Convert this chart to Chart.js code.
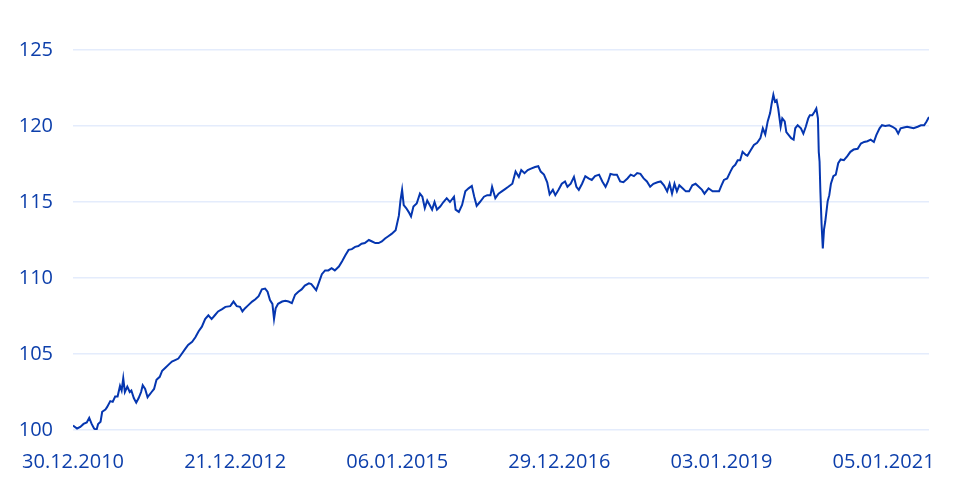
<!DOCTYPE html>
<html>
<head>
<meta charset="utf-8">
<script src="https://cdn.jsdelivr.net/npm/chart.js@4"></script>
<style>
  html, body { margin: 0; padding: 0; background: #fff; }
  #wrap { width: 960px; height: 485px; }
</style>
</head>
<body>
<div id="wrap"><canvas id="chart"></canvas></div>
<script>
// Zeitpunkte (Jahr als Dezimalzahl) und Indexwerte
const years = [
  2011.00, 2011.05, 2011.09, 2011.13, 2011.17, 2011.20, 2011.23, 2011.26, 2011.29, 2011.31,
  2011.34, 2011.36, 2011.40, 2011.42, 2011.46, 2011.49, 2011.52, 2011.55, 2011.58, 2011.60,
  2011.62, 2011.64, 2011.67, 2011.70, 2011.72, 2011.75, 2011.78, 2011.81, 2011.84, 2011.86,
  2011.89, 2011.92, 2011.94, 2011.97, 2012.00, 2012.03, 2012.07, 2012.10, 2012.14, 2012.18,
  2012.22, 2012.26, 2012.30, 2012.34, 2012.38, 2012.42, 2012.47, 2012.51, 2012.55, 2012.59,
  2012.63, 2012.67, 2012.71, 2012.75, 2012.79, 2012.84, 2012.88, 2012.94, 2012.98, 2013.02,
  2013.06, 2013.09, 2013.12, 2013.16, 2013.21, 2013.25, 2013.29, 2013.33, 2013.37, 2013.40,
  2013.43, 2013.46, 2013.48, 2013.50, 2013.53, 2013.58, 2013.62, 2013.66, 2013.70, 2013.74,
  2013.78, 2013.82, 2013.86, 2013.91, 2013.94, 2013.97, 2014.00, 2014.03, 2014.07, 2014.11,
  2014.15, 2014.19, 2014.23, 2014.28, 2014.32, 2014.36, 2014.40, 2014.44, 2014.48, 2014.52,
  2014.56, 2014.60, 2014.65, 2014.69, 2014.73, 2014.77, 2014.81, 2014.85, 2014.89, 2014.93,
  2014.98, 2015.02, 2015.04, 2015.06, 2015.08, 2015.11, 2015.14, 2015.17, 2015.20, 2015.24,
  2015.28, 2015.31, 2015.34, 2015.37, 2015.40, 2015.43, 2015.46, 2015.49, 2015.53, 2015.57,
  2015.61, 2015.65, 2015.70, 2015.72, 2015.76, 2015.80, 2015.84, 2015.88, 2015.92, 2015.95,
  2015.98, 2016.02, 2016.07, 2016.11, 2016.15, 2016.17, 2016.21, 2016.25, 2016.29, 2016.33,
  2016.37, 2016.42, 2016.46, 2016.50, 2016.53, 2016.57, 2016.61, 2016.65, 2016.70, 2016.74,
  2016.77, 2016.81, 2016.85, 2016.88, 2016.92, 2016.95, 2016.99, 2017.03, 2017.07, 2017.10,
  2017.14, 2017.18, 2017.21, 2017.24, 2017.28, 2017.32, 2017.36, 2017.40, 2017.44, 2017.49,
  2017.53, 2017.57, 2017.60, 2017.63, 2017.67, 2017.71, 2017.75, 2017.79, 2017.84, 2017.88,
  2017.92, 2017.96, 2018.00, 2018.04, 2018.08, 2018.12, 2018.16, 2018.21, 2018.25, 2018.29,
  2018.33, 2018.36, 2018.39, 2018.42, 2018.45, 2018.48, 2018.52, 2018.56, 2018.60, 2018.64,
  2018.68, 2018.72, 2018.76, 2018.79, 2018.84, 2018.89, 2018.93, 2018.97, 2019.00, 2019.03,
  2019.07, 2019.11, 2019.14, 2019.17, 2019.20, 2019.23, 2019.26, 2019.30, 2019.32, 2019.36,
  2019.40, 2019.44, 2019.48, 2019.51, 2019.54, 2019.57, 2019.60, 2019.62, 2019.64, 2019.66,
  2019.68, 2019.70, 2019.73, 2019.75, 2019.78, 2019.80, 2019.83, 2019.86, 2019.89, 2019.91,
  2019.94, 2019.98, 2020.01, 2020.04, 2020.07, 2020.09, 2020.12, 2020.15, 2020.17, 2020.19,
  2020.20, 2020.21, 2020.22, 2020.235, 2020.25, 2020.265, 2020.28, 2020.31, 2020.33, 2020.35,
  2020.38, 2020.41, 2020.44, 2020.47, 2020.51, 2020.55, 2020.59, 2020.63, 2020.68, 2020.72,
  2020.76, 2020.80, 2020.84, 2020.88, 2020.91, 2020.95, 2020.98, 2021.02, 2021.07, 2021.11,
  2021.15, 2021.18, 2021.21, 2021.25, 2021.29, 2021.33, 2021.37, 2021.42, 2021.46, 2021.50,
  2021.53, 2021.56
];

const values = [
  100.3, 100.1, 100.2, 100.4, 100.5, 100.8, 100.4, 100.1, 100.0, 100.4,
  100.55, 101.2, 101.35, 101.5, 101.9, 101.85, 102.2, 102.2, 102.9, 102.6,
  103.4, 102.5, 102.85, 102.5, 102.6, 102.1, 101.8, 102.1, 102.5, 102.95,
  102.7, 102.15, 102.3, 102.5, 102.7, 103.3, 103.5, 103.9, 104.1, 104.3,
  104.5, 104.6, 104.7, 105.0, 105.3, 105.6, 105.8, 106.1, 106.5, 106.8,
  107.3, 107.55, 107.3, 107.55, 107.8, 107.95, 108.1, 108.15, 108.45, 108.15,
  108.1, 107.8, 108.0, 108.2, 108.45, 108.6, 108.8, 109.25, 109.3, 109.1,
  108.55, 108.3, 107.3, 108.0, 108.3, 108.45, 108.5, 108.45, 108.35, 108.9,
  109.1, 109.25, 109.5, 109.65, 109.6, 109.4, 109.2, 109.65, 110.25, 110.5,
  110.5, 110.65, 110.5, 110.75, 111.1, 111.5, 111.85, 111.9, 112.05, 112.1,
  112.25, 112.3, 112.5, 112.4, 112.3, 112.3, 112.4, 112.6, 112.75, 112.9,
  113.15, 114.1, 115.1, 115.8, 114.8, 114.6, 114.35, 114.05, 114.7, 114.9,
  115.55, 115.35, 114.6, 115.1, 114.8, 114.5, 115.0, 114.5, 114.7, 115.0,
  115.25, 115.0, 115.35, 114.5, 114.35, 114.8, 115.7, 115.9, 116.05, 115.35,
  114.75, 115.0, 115.35, 115.45, 115.45, 116.0, 115.25, 115.55, 115.7, 115.85,
  116.0, 116.2, 117.0, 116.65, 117.1, 116.9, 117.1, 117.2, 117.3, 117.35,
  117.0, 116.8, 116.3, 115.5, 115.8, 115.45, 115.8, 116.2, 116.35, 116.0,
  116.2, 116.65, 116.0, 115.8, 116.2, 116.7, 116.55, 116.45, 116.7, 116.8,
  116.35, 116.0, 116.35, 116.85, 116.8, 116.8, 116.35, 116.3, 116.55, 116.8,
  116.7, 116.9, 116.85, 116.55, 116.35, 116.0, 116.2, 116.3, 116.35, 116.1,
  115.7, 116.2, 115.55, 116.2, 115.7, 116.1, 115.9, 115.7, 115.7, 116.1,
  116.2, 116.0, 115.8, 115.55, 115.9, 115.7, 115.7, 115.7, 116.1, 116.45,
  116.55, 117.0, 117.3, 117.45, 117.75, 117.75, 118.3, 118.1, 118.05, 118.4,
  118.75, 118.9, 119.2, 119.85, 119.45, 120.3, 120.85, 121.5, 122.05, 121.6,
  121.7, 121.15, 119.95, 120.5, 120.3, 119.6, 119.4, 119.2, 119.1, 119.85,
  120.05, 119.85, 119.5, 119.95, 120.5, 120.7, 120.7, 120.95, 121.15, 120.5,
  118.3, 117.65, 115.7, 113.5, 111.95, 113.2, 113.7, 115.05, 115.45, 116.2,
  116.7, 116.8, 117.55, 117.8, 117.75, 118.0, 118.3, 118.45, 118.5, 118.85,
  118.95, 119.0, 119.1, 118.95, 119.4, 119.85, 120.05, 120.0, 120.05, 119.95,
  119.8, 119.5, 119.85, 119.9, 119.95, 119.9, 119.85, 119.95, 120.05, 120.05,
  120.3, 120.6
];

// Achsenbeschriftungen
const tickYears = [2011, 2013, 2015, 2017, 2019, 2021];
const tickLabels = ['30.12.2010', '21.12.2012', '06.01.2015', '29.12.2016', '03.01.2019', '05.01.2021'];
const yTicks = [100, 105, 110, 115, 120, 125];

const blue = '#0536b0';
const textBlue = '#0d3fab';
const gridBlue = '#e4ecfc';

const points = years.map((y, i) => ({ x: y, y: values[i] }));

new Chart(document.getElementById('chart'), {
  type: 'line',
  data: {
    datasets: [{
      data: points,
      borderColor: blue,
      borderWidth: 2,
      pointRadius: 0,
      tension: 0,
      fill: false
    }]
  },
  options: {
    responsive: true,
    maintainAspectRatio: false,
    animation: false,
    layout: {
      padding: { top: 50, right: 31, left: 20, bottom: 0 }
    },
    plugins: {
      legend: { display: false },
      tooltip: { enabled: false }
    },
    scales: {
      x: {
        type: 'linear',
        min: years[0],
        max: years[years.length - 1],
        grid: { display: false },
        border: { display: false },
        afterBuildTicks: (scale) => {
          scale.ticks = tickYears.map(v => ({ value: v }));
        },
        afterFit: (scale) => { scale.height = 55; },
        ticks: {
          autoSkip: false,
          maxRotation: 0,
          padding: 12,
          color: textBlue,
          font: { family: 'Open Sans', size: 20 },
          callback: (v) => tickLabels[tickYears.indexOf(v)] ?? ''
        }
      },
      y: {
        min: 100,
        max: 125,
        grid: { color: gridBlue, lineWidth: 1.5, drawTicks: false },
        border: { display: false },
        afterBuildTicks: (scale) => {
          scale.ticks = yTicks.map(v => ({ value: v }));
        },
        afterFit: (scale) => { scale.width = 53; },
        ticks: {
          padding: 20,
          color: textBlue,
          font: { family: 'Open Sans', size: 20 }
        }
      }
    }
  }
});
</script>
</body>
</html>
